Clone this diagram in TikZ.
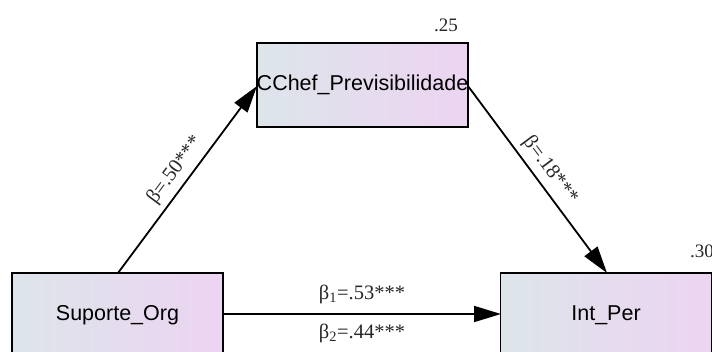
\documentclass[tikz,border=0pt]{standalone}
\usepackage{fontspec}
\setmainfont{Liberation Serif}
\setsansfont{Liberation Sans}
\usetikzlibrary{arrows.meta}
\definecolor{boxleft}{HTML}{DDE5EA}
\definecolor{boxright}{HTML}{ECD4F2}
\tikzset{
  var/.style={draw=black, line width=1.6pt, left color=boxleft, right color=boxright,
    minimum height=84pt, inner sep=0pt, font=\sffamily\fontsize{21.5}{21.5}\selectfont},
  path/.style={line width=1.8pt, -{Triangle[length=27pt,width=16pt]}},
  coef/.style={font=\fontsize{20.5}{20.5}\selectfont, text=black!85},
  rsq/.style={font=\fontsize{19}{19}\selectfont, text=black!85},
}
\begin{document}
\begin{tikzpicture}[x=1pt,y=-1pt]
  \useasboundingbox (0,0) rectangle (712,351);
  % observed variables
  \node[var, minimum width=211pt] (med) at (362.5,85) {CChef\_Previsibilidade};
  \node[var, minimum width=211pt] (x) at (117.5,315) {Suporte\_Org};
  \node[var, minimum width=211pt] (y) at (606,315) {Int\_Per};
  % explained variance
  \node[rsq] (r2m) at (446,25) {.25};
  \node[rsq] (r2y) at (702,251) {.30};
  % anchor points on the boxes
  \coordinate (xtop) at (118,273);
  \coordinate (medl) at (257,86);
  \coordinate (medr) at (468,86);
  \coordinate (ytop) at (607,273);
  \coordinate (xr) at (223,314);
  \coordinate (yl) at (501,314);
  % paths
  \draw[path] (xtop) -- node[coef, sloped, above=2pt] {β=.50***} (medl);
  \draw[path] (medr) -- node[coef, sloped, above=2pt] {β=.18***} (ytop);
  \draw[path] (xr) -- node[coef, above=6pt] {β\textsubscript{1}=.53***}
                      node[coef, below=6pt] {β\textsubscript{2}=.44***} (yl);
\end{tikzpicture}
\end{document}
